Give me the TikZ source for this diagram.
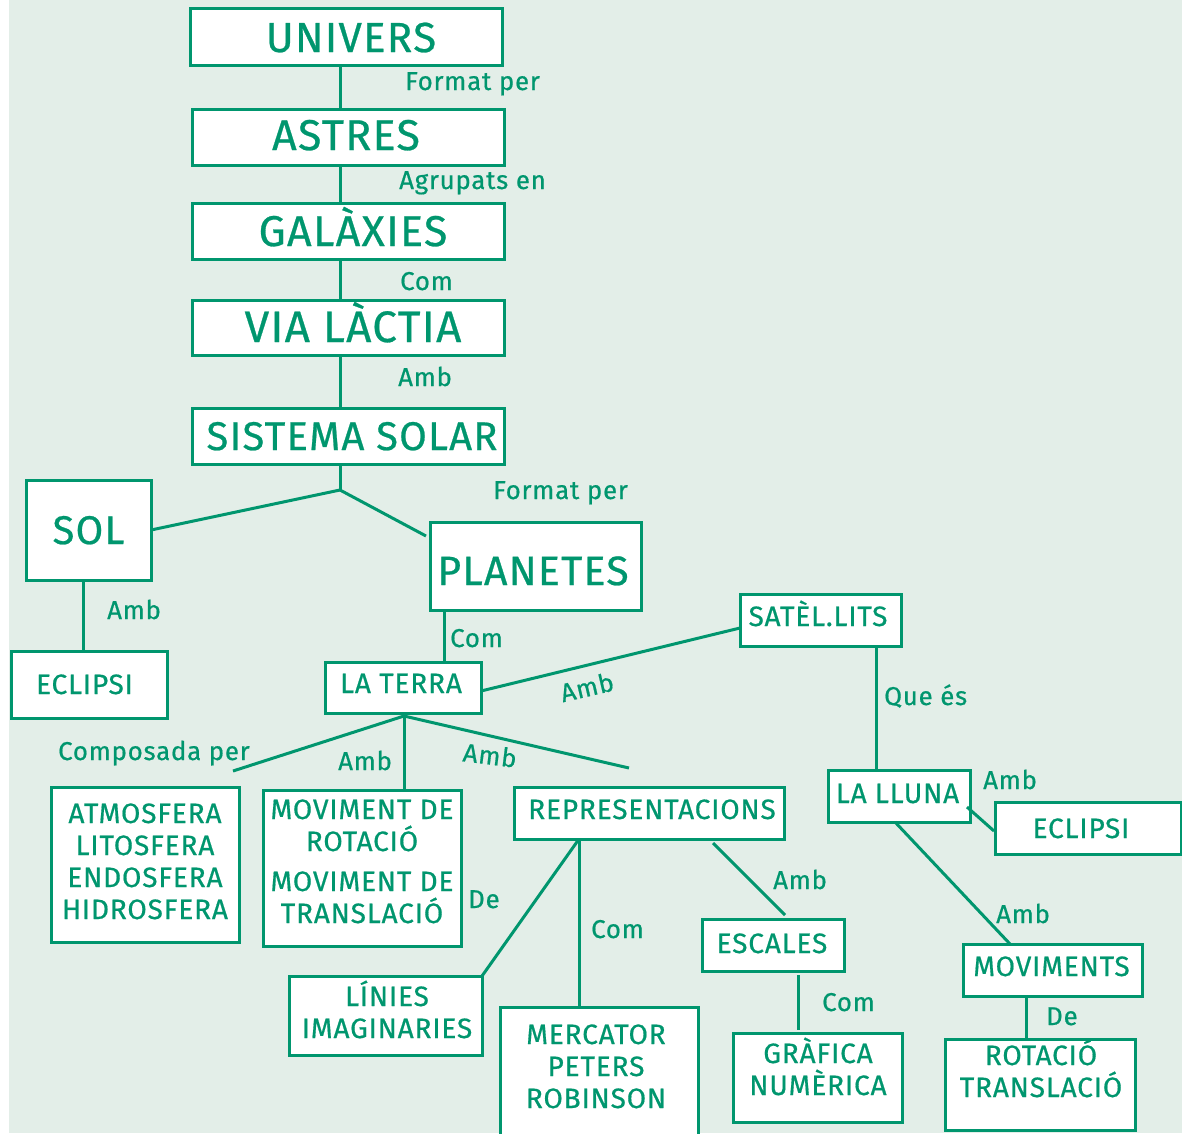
\documentclass[tikz,border=0pt]{standalone}
\usepackage{fontspec}
\setmainfont{Fira Sans}[LetterSpace=3,FakeBold=0.6]
\usetikzlibrary{calc}
\definecolor{gr}{RGB}{0,150,110}
\definecolor{bg}{RGB}{227,238,232}
\tikzset{
  box/.style={draw=gr, line width=3pt, fill=white, inner sep=0pt, outer sep=0pt, anchor=north west},
  big/.style={text=gr, font=\fontsize{43}{46}\selectfont, inner sep=0pt, anchor=base},
  mid/.style={text=gr, font=\fontsize{40}{46}\selectfont, inner sep=0pt, anchor=base},
  med/.style={text=gr, font=\fontsize{28}{32}\selectfont, inner sep=0pt, anchor=base, align=center},
  lab/.style={text=gr, font=\fontsize{25.8}{30}\selectfont, inner sep=0pt, anchor=base west},
  con/.style={draw=gr, line width=3pt},
}
\newcommand\bx[5]{\node[box, minimum width=#3pt, minimum height=#4pt] (#5) at (#1,#2) {};}
\begin{document}
\begin{tikzpicture}[x=1pt,y=-1pt]
\useasboundingbox (0,0) rectangle (1182,1133);
\clip (0,0) rectangle (1182,1133);
\fill[white] (0,0) rectangle (1182,1133);
\fill[bg] (9,0) rectangle (1182,1133);
\coordinate (spine) at (340,0);
\coordinate (j) at (340,490);
\coordinate (tj) at (404,716);
\coordinate (tl) at (233,771);
\coordinate (tr) at (629,768);
\bx{190}{8}{312}{57}{univ}
\bx{192}{109}{312}{56}{astres}
\bx{192}{203}{312}{56}{galax}
\bx{192}{300}{312}{55}{via}
\bx{192}{408}{312}{56}{sist}
\bx{26}{480}{125}{100}{sol}
\bx{11}{651}{156}{67}{eclL}
\bx{430}{522}{211}{88}{planetes}
\bx{325}{662}{156}{51}{terra}
\bx{740}{594}{161}{52}{satel}
\bx{828}{770}{142}{52}{lluna}
\bx{995}{802}{186}{52}{eclR}
\bx{963}{944}{179}{52}{movs}
\bx{945}{1039}{190}{91}{rotR}
\bx{51}{787}{188}{155}{atmos}
\bx{263}{790}{198}{156}{movrt}
\bx{514}{787}{270}{52}{repr}
\bx{289}{976}{193}{79}{linies}
\bx{500}{1007}{198}{140}{merc}
\bx{702}{919}{142}{52}{esc}
\bx{733}{1033}{169}{89}{graf}
% connectors
\draw[con] (spine |- univ.south) -- (spine |- astres.north);
\draw[con] (spine |- astres.south) -- (spine |- galax.north);
\draw[con] (spine |- galax.south) -- (spine |- via.north);
\draw[con] (spine |- via.south) -- (spine |- sist.north);
\draw[con] (spine |- sist.south) -- (j);
\draw[con] (j) -- (sol.east);
\draw[con] (j) -- ($(planetes.north west)+(-4,14)$);
\draw[con] ($(sol.south)+(-5.5,0)$) -- ($(eclL.north)+(-6,0)$);
\draw[con] ($(planetes.south west)+(14,0)$) -- ($(terra.north west)+(119,0)$);
\draw[con] ($(terra.east)+(0,3.5)$) -- ($(satel.west)+(0,8)$);
\draw[con] ($(satel.south west)+(136,0)$) -- ($(lluna.north west)+(48,0)$);
\draw[con] ($(lluna.east)+(-3,11)$) -- ($(eclR.west)+(-1,3)$);
\draw[con] ($(lluna.south)+(-4,0)$) -- ($(movs.north)+(-42.5,0)$);
\draw[con] ($(movs.south)+(-26.5,0)$) -- ($(rotR.north)+(-14,0)$);
\draw[con] (terra.south) -- (tj);
\draw[con] (tj) -- (tl);
\draw[con] (tj) -- (tj |- movrt.north);
\draw[con] (tj) -- (tr);
\draw[con] ($(repr.south west)+(65,0)$) -- (linies.north east);
\draw[con] ($(repr.south west)+(65,0)$) -- ($(merc.north west)+(79,0)$);
\draw[con] ($(repr.south west)+(199,4)$) -- ($(esc.north west)+(83,-4)$);
\draw[con] ($(esc.south)+(25,4)$) -- ($(graf.north)+(-19.5,-3)$);
% box texts
\node[big, font=\fontsize{42}{46}\selectfont] (t-univ) at (351,52) {UNIVERS};
\node[big] (t-astres) at (346,150) {ASTRES};
\node[big] (t-galax) at (353,246) {GALÀXIES};
\node[big, font=\fontsize{44}{46}\selectfont] (t-via) at (353,342) {VIA LÀCTIA};
\node[big, font=\fontsize{40}{44}\selectfont] (t-sist) at (352,450) {SISTEMA SOLAR};
\node[mid] (t-sol) at (88.5,544) {SOL};
\node[mid, font=\fontsize{41}{44}\selectfont] (t-plan) at (533,585) {PLANETES};
\node[med] (t-eclL) at (84.5,694) {ECLIPSI};
\node[med] (t-terra) at (401,693) {LA TERRA};
\node[med] (t-satel) at (818,626) {SATÈL.LITS};
\node[med] (t-lluna) at (897.5,803) {LA LLUNA};
\node[med] (t-eclR) at (1081,838) {ECLIPSI};
\node[med] (t-movs) at (1051.5,976) {MOVIMENTS};
\node[med] (t-rotR) at (1041,1097) {ROTACIÓ\\TRANSLACIÓ};
\node[med] (t-atmos) at (145,919) {ATMOSFERA\\LITOSFERA\\ENDOSFERA\\HIDROSFERA};
\node[med] (t-movrt) at (362,923) {MOVIMENT DE\\ROTACIÓ\\[8pt]MOVIMENT DE\\TRANSLACIÓ};
\node[med] (t-repr) at (652,819) {REPRESENTACIONS};
\node[med] (t-linies) at (387,1038) {LÍNIES\\IMAGINARIES};
\node[med] (t-merc) at (596,1108) {MERCATOR\\PETERS\\ROBINSON};
\node[med] (t-esc) at (772,953) {ESCALES};
\node[med] (t-graf) at (818,1095) {GRÀFICA\\NUMÈRICA};
% connector labels
\node[lab] (l1) at (405,90) {Format per};
\node[lab] (l2) at (399,189) {Agrupats en};
\node[lab] (l3) at (400,290) {Com};
\node[lab] (l4) at (398,386) {Amb};
\node[lab] (l5) at (493,499) {Format per};
\node[lab] (l6) at (107,619) {Amb};
\node[lab] (l7) at (450,647) {Com};
\node[lab, anchor=center, rotate=13] (l8) at (587,687) {Amb};
\node[lab] (l9) at (884,705) {Que és};
\node[lab] (l10) at (983,789) {Amb};
\node[lab] (l11) at (996,923) {Amb};
\node[lab] (l12) at (1046,1025) {De};
\node[lab] (l13) at (58,760) {Composada per};
\node[lab] (l14) at (338,770) {Amb};
\node[lab, anchor=center, rotate=-7] (l15) at (490,755) {Amb};
\node[lab] (l16) at (468,908) {De};
\node[lab] (l17) at (591,938) {Com};
\node[lab] (l18) at (773,889) {Amb};
\node[lab] (l19) at (822,1011) {Com};
\end{tikzpicture}
\end{document}
